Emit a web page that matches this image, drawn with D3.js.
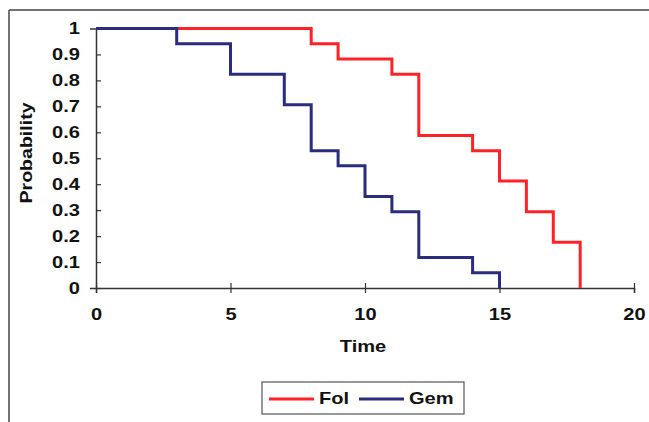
<!DOCTYPE html>
<html>
<head>
<meta charset="utf-8">
<script src="https://cdn.jsdelivr.net/npm/d3@7"></script>
<style>
  body { margin: 0; background: #fff; }
  text { font-family: Arial, "Liberation Sans", sans-serif; font-weight: bold; fill: #111; }
</style>
</head>
<body>
<div id="chart"></div>
<script>
// step survival curves: time of each step and probability after it
const folTimes = [0, 8, 9, 11, 12, 14, 15, 16, 17, 18];
const folProb  = [1, 0.941, 0.882, 0.824, 0.588, 0.529, 0.412, 0.294, 0.176, 0];
const gemTimes = [0, 3, 5, 7, 8, 9, 10, 11, 12, 14, 15];
const gemProb  = [1, 0.941, 0.824, 0.706, 0.529, 0.471, 0.353, 0.294, 0.118, 0.059, 0];
const xTicks = [0, 5, 10, 15, 20];
const yTicks = [0, 0.1, 0.2, 0.3, 0.4, 0.5, 0.6, 0.7, 0.8, 0.9, 1];
const seriesNames = ["Fol", "Gem"];
const seriesColors = ["#ff2328", "#2b2c7c"];

const W = 649, H = 422;
const FONT = "17px";
const svg = d3.select("#chart").append("svg")
    .attr("width", W).attr("height", H);

// the original's lettering is a bit wide, so stretch text sideways
function widen(sel, k) {
  sel.each(function() {
    const len = this.getComputedTextLength();
    d3.select(this).attr("textLength", len * k).attr("lengthAdjust", "spacingAndGlyphs");
  });
}

// outer frame (top and left edges only visible)
svg.append("line").attr("x1", 9).attr("x2", W).attr("y1", 10).attr("y2", 10)
    .attr("stroke", "#444").attr("stroke-width", 1.5);
svg.append("line").attr("x1", 9).attr("x2", 9).attr("y1", 10).attr("y2", H)
    .attr("stroke", "#444").attr("stroke-width", 1.5);

const x = d3.scaleLinear().domain([0, 20]).range([96, 634]);
const y = d3.scaleLinear().domain([0, 1]).range([288, 28.5]);

const xAxis = svg.append("g")
    .attr("transform", `translate(0,${y(0)})`)
    .call(d3.axisBottom(x).tickValues(xTicks).tickSize(5).tickPadding(15)
        .tickFormat(d3.format("d")));
xAxis.selectAll(".tick line").attr("y1", -5);

const yAxis = svg.append("g")
    .attr("transform", `translate(${x(0)},0)`)
    .call(d3.axisLeft(y).tickValues(yTicks).tickSize(6).tickPadding(10)
        .tickFormat(d => d === 0 || d === 1 ? d3.format("d")(d) : d3.format(".1f")(d)));
yAxis.selectAll(".tick line").attr("x2", 5);

[xAxis, yAxis].forEach(g => {
  g.select(".domain").attr("stroke", "#333").attr("stroke-width", 1.5);
  g.selectAll(".tick line").attr("stroke", "#333").attr("stroke-width", 1.2);
  g.selectAll("text").style("font-size", FONT).style("font-family", "Arial, 'Liberation Sans', sans-serif")
    .style("font-weight", "bold").attr("fill", "#111")
    .call(widen, 1.18);
});

const line = d3.line()
    .x(d => x(d[0]))
    .y(d => y(d[1]))
    .curve(d3.curveStepAfter);

const series = [
  folTimes.map((t, i) => [t, folProb[i]]),
  gemTimes.map((t, i) => [t, gemProb[i]])
];

// draw Fol first so Gem sits on top where they overlap
series.forEach((s, i) => {
  svg.append("path")
      .datum(s)
      .attr("fill", "none")
      .attr("stroke", seriesColors[i])
      .attr("stroke-width", 3)
      .attr("d", line);
});

svg.append("text")
    .attr("x", 363).attr("y", 352)
    .attr("text-anchor", "middle")
    .style("font-size", FONT)
    .text("Time")
    .call(widen, 1.18);

svg.append("text")
    .attr("transform", "translate(32,153) rotate(-90)")
    .attr("text-anchor", "middle")
    .style("font-size", FONT)
    .text("Probability")
    .call(widen, 1.15);

// legend
const legend = svg.append("g");
legend.append("rect")
    .attr("x", 262).attr("y", 382).attr("width", 202).attr("height", 32)
    .attr("fill", "#fff").attr("stroke", "#555").attr("stroke-width", 1.2);
const legendX = [269, 359];
seriesNames.forEach((name, i) => {
  legend.append("line")
      .attr("x1", legendX[i]).attr("x2", legendX[i] + 45)
      .attr("y1", 399).attr("y2", 399)
      .attr("stroke", seriesColors[i]).attr("stroke-width", 3);
  legend.append("text")
      .attr("x", legendX[i] + 50).attr("y", 404)
      .style("font-size", FONT)
      .text(name)
      .call(widen, 1.18);
});
</script>
</body>
</html>
